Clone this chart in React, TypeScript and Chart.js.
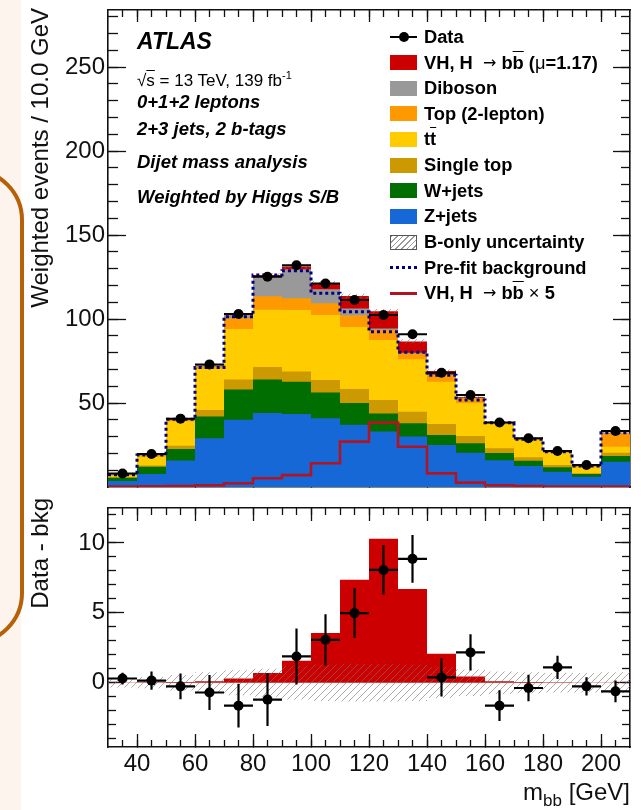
import { useEffect, useRef } from "react";
import { Chart, registerables } from "chart.js";

Chart.register(...registerables);

// ---- m_bb binning (GeV) ----
const binEdges = [30, 40, 50, 60, 70, 80, 90, 100, 110, 120, 130, 140, 150, 160, 170, 180, 190, 200, 210];
const binCenters = [35, 45, 55, 65, 75, 85, 95, 105, 115, 125, 135, 145, 155, 165, 175, 185, 195, 205];

// ---- weighted events per bin, post-fit, by process ----
const zJets = [3.5, 7.7, 15.8, 29, 40, 44, 43.5, 41, 37, 33, 30, 25, 20.4, 16, 12.5, 9.1, 6.1, 15.1];
const wJets = [2.0, 4.3, 6.8, 13, 18, 20, 19.2, 15.2, 13, 10.8, 7.9, 6, 5.6, 4.3, 3.2, 2.6, 1.6, 3.4];
const singleTop = [0.3, 0.8, 2.0, 3.8, 6, 7.5, 6, 7.5, 8.3, 8, 6.9, 6.5, 4.4, 2.8, 2, 1.4, 0.5, 1.9];
const ttbar = [1.2, 5.3, 14.6, 24.6, 30, 34, 36.7, 38.7, 37, 35.7, 31.2, 25.2, 19.6, 14.5, 10.3, 7.3, 3.5, 3.6];
const top2Lepton = [0.3, 0.6, 0.7, 1.2, 6.4, 8, 7, 7, 7, 6, 3.5, 4, 3, 0.4, 0.6, 0.6, 0.6, 8];
const diboson = [0.1, 0.2, 0.4, 0.6, 1.4, 12, 17.3, 8.4, 4, 0.9, 0.5, 0.3, 0.2, 0.1, 0.1, 0.1, 0.1, 0.3];
const vhSignal = [0.02, 0.03, 0.05, 0.1, 0.3, 0.7, 1.57, 3.55, 7.36, 10.3, 6.7, 2.07, 0.45, 0.1, 0.05, 0.03, 0.02, 0.02];

const preFitBkg = [7.3, 19, 40.3, 71.2, 101.4, 126.2, 128.8, 115.3, 104.4, 92.5, 80.2, 66.5, 51.8, 38.3, 28.5, 21, 12.5, 32.3];
const vhTimesFive = [0.3, 0.4, 0.6, 1.0, 2.2, 5.2, 7.1, 14.1, 27, 38.3, 24, 8.1, 2.6, 1.0, 0.5, 0.3, 0.2, 0.2];

const dataCounts = [8, 19.6, 40.7, 73, 103, 125.2, 132, 121.2, 111.3, 102.4, 90.9, 68, 54.8, 38.4, 29, 21.4, 13.1, 33.3];
const dataMinusBkg = [0.3, 0.15, -0.26, -0.7, -1.64, -1.21, 1.88, 3.07, 4.98, 8.07, 8.86, 0.38, 2.17, -1.64, -0.38, 1.1, -0.26, -0.62];
const dataErr = [0.42, 0.65, 0.92, 1.25, 1.57, 1.88, 2.0, 1.83, 1.79, 1.76, 1.7, 1.37, 1.29, 1.1, 0.95, 0.83, 0.65, 0.77];
const bOnlyUnc = [0.35, 0.4, 0.55, 0.75, 0.9, 1.0, 1.2, 1.3, 1.35, 1.35, 1.3, 1.1, 0.95, 0.8, 0.75, 0.7, 0.7, 0.75];

// ---- axis ticks ----
const xMajorTicks = [40, 60, 80, 100, 120, 140, 160, 180, 200];
const xMinorTicks = [35, 40, 45, 50, 55, 60, 65, 70, 75, 80, 85, 90, 95, 100, 105, 110, 115, 120, 125, 130, 135, 140, 145, 150, 155, 160, 165, 170, 175, 180, 185, 190, 195, 200, 205];
const topYMajorTicks = [50, 100, 150, 200, 250];
const topYMinorTicks = [10, 20, 30, 40, 50, 60, 70, 80, 90, 100, 110, 120, 130, 140, 150, 160, 170, 180, 190, 200, 210, 220, 230, 240, 250, 260, 270, 280];
const lowYMajorTicks = [0, 5, 10];
const lowYMinorTicks = [-4, -3, -2, -1, 0, 1, 2, 3, 4, 5, 6, 7, 8, 9, 10, 11, 12];

const X_MIN = 30;
const X_MAX = 210;
const TOP_Y_MAX = 284;
const LOW_Y_MIN = -4.6;
const LOW_Y_MAX = 12.5;

const FONT = '"Liberation Sans", Arial, Helvetica, sans-serif';

const COLORS = {
  z: "rgb(22,104,214)",
  w: "rgb(0,110,0)",
  st: "rgb(204,153,0)",
  tt: "rgb(255,204,0)",
  top2l: "rgb(255,153,0)",
  db: "rgb(153,153,153)",
  vh: "rgb(204,0,0)",
  vhLine: "rgb(178,20,34)",
  prefit: "rgb(0,0,128)",
};

// histogram outline: one point per bin edge, last bin value repeated at the upper edge
const stepPoints = (vals: number[]) =>
  binEdges.map((x, i) => ({ x, y: vals[Math.min(i, vals.length - 1)] }));

// horizontal (bin width) and vertical (±err) bars, separated by gaps
const errorSegments = (ys: number[], errs: number[]) =>
  ys.flatMap((y, i) => {
    const c = binCenters[i];
    return [
      { x: binEdges[i], y },
      { x: binEdges[i + 1], y },
      { x: c, y: null },
      { x: c, y: y - errs[i] },
      { x: c, y: y + errs[i] },
      { x: c, y: null },
    ];
  });

function makeHatch(): CanvasPattern | string {
  const n = 7;
  const c = document.createElement("canvas");
  c.width = n;
  c.height = n;
  const g = c.getContext("2d");
  if (!g) return "rgba(120,120,120,0.4)";
  g.strokeStyle = "rgba(115,115,115,0.6)";
  g.lineWidth = 1;
  g.beginPath();
  g.moveTo(0, n);
  g.lineTo(n, 0);
  g.moveTo(-1, 1);
  g.lineTo(1, -1);
  g.moveTo(n - 1, n + 1);
  g.lineTo(n + 1, n - 1);
  g.stroke();
  return g.createPattern(c, "repeat") || "rgba(120,120,120,0.4)";
}

// an axis carrying inward tick marks (and optionally labels); `size` is the room it takes
function tickScale(
  position: string,
  min: number,
  max: number,
  values: number[],
  length: number,
  opts: { labels?: boolean; pad?: number; border?: boolean; size?: number } = {}
) {
  const size = opts.size ?? 0;
  return {
    type: "linear",
    position,
    min,
    max,
    weight: size > 0 ? 10 : 0,
    afterBuildTicks: (s: any) => {
      s.ticks = values.map((v) => ({ value: v }));
    },
    afterFit: (s: any) => {
      if (s.isHorizontal()) s.height = size;
      else s.width = size;
      s.paddingTop = 0;
      s.paddingBottom = 0;
      s.paddingLeft = 0;
      s.paddingRight = 0;
    },
    grid: {
      display: true,
      drawOnChartArea: false,
      drawTicks: true,
      tickLength: -length,
      tickWidth: 1.3,
      tickColor: "#111",
    },
    border: { display: opts.border !== false, color: "#111", width: 1.6 },
    ticks: {
      display: !!opts.labels,
      autoSkip: false,
      maxRotation: 0,
      minRotation: 0,
      padding: opts.pad ?? 0,
      color: "#111",
      font: { family: FONT, size: 24 },
      callback: (v: any) => String(v),
    },
  };
}

const baseOptions = {
  animation: false,
  responsive: false,
  maintainAspectRatio: false,
  events: [],
  elements: { point: { radius: 0 }, line: { tension: 0 } },
  plugins: { legend: { display: false }, tooltip: { enabled: false }, title: { display: false } },
};

const Bar = ({ children }: { children: any }) => (
  <span style={{ textDecoration: "overline" }}>{children}</span>
);

const Thin = ({ children }: { children: any }) => <span style={{ fontWeight: 400 }}>{children}</span>;

const Arrow = () => (
  <span style={{ fontWeight: 400, fontFamily: '"DejaVu Sans", sans-serif', fontSize: 16, position: "relative", top: -1 }}>
    &nbsp;→
  </span>
);

const legendRows: { kind: string; color?: string; text: any }[] = [
  { kind: "data", text: "Data" },
  {
    kind: "box",
    color: COLORS.vh,
    text: (
      <>
        VH, H <Arrow /> b<Bar>b</Bar> (<Thin>μ</Thin>=1.17)
      </>
    ),
  },
  { kind: "box", color: COLORS.db, text: "Diboson" },
  { kind: "box", color: COLORS.top2l, text: "Top (2-lepton)" },
  {
    kind: "box",
    color: COLORS.tt,
    text: (
      <>
        t<Bar>t</Bar>
      </>
    ),
  },
  { kind: "box", color: COLORS.st, text: "Single top" },
  { kind: "box", color: COLORS.w, text: "W+jets" },
  { kind: "box", color: COLORS.z, text: "Z+jets" },
  { kind: "hatch", text: "B-only uncertainty" },
  { kind: "dots", text: "Pre-fit background" },
  {
    kind: "line",
    text: (
      <>
        VH, H <Arrow /> b<Bar>b</Bar> <Thin>×</Thin> 5
      </>
    ),
  },
];

const LEG_X = 390;
const LEG_W = 27;
const LEG_TEXT_X = 424;
const LEG_Y0 = 36.8;
const LEG_DY = 25.65;

function LegendSymbol({ kind, color }: { kind: string; color?: string }) {
  const common: any = { position: "absolute", left: 0, width: LEG_W };
  if (kind === "box")
    return <div style={{ ...common, top: 5, height: 15, background: color }} />;
  if (kind === "hatch")
    return (
      <div
        style={{
          ...common,
          top: 5,
          height: 15,
          boxSizing: "border-box",
          border: "1px solid #555",
          background: "repeating-linear-gradient(135deg, #9a9a9a 0 1px, #fff 1px 4px)",
        }}
      />
    );
  if (kind === "dots")
    return (
      <div
        style={{
          ...common,
          top: 11,
          height: 3,
          background: `repeating-linear-gradient(90deg, ${COLORS.prefit} 0 3px, transparent 3px 6px)`,
        }}
      />
    );
  if (kind === "line")
    return <div style={{ ...common, top: 11, height: 3, background: COLORS.vhLine }} />;
  // data: line with a marker
  return (
    <>
      <div style={{ ...common, top: 11.5, height: 2, background: "#000" }} />
      <div
        style={{
          position: "absolute",
          left: LEG_W / 2 - 5,
          top: 7.5,
          width: 10,
          height: 10,
          borderRadius: 5,
          background: "#000",
        }}
      />
    </>
  );
}

export default function App() {
  const topRef = useRef<HTMLCanvasElement>(null);
  const lowRef = useRef<HTMLCanvasElement>(null);

  useEffect(() => {
    const hatch = makeHatch();

    // cumulative stack, bottom to top
    const stackParts = [
      { data: zJets, color: COLORS.z },
      { data: wJets, color: COLORS.w },
      { data: singleTop, color: COLORS.st },
      { data: ttbar, color: COLORS.tt },
      { data: top2Lepton, color: COLORS.top2l },
      { data: diboson, color: COLORS.db },
      { data: vhSignal, color: COLORS.vh },
    ];
    let running = binCenters.map(() => 0);
    const stackSets = stackParts.map((p) => {
      running = running.map((v, i) => v + p.data[i]);
      return {
        data: stepPoints(running),
        stepped: "before",
        borderWidth: 0,
        pointRadius: 0,
        fill: "origin",
        backgroundColor: p.color,
      };
    });
    const total = running;

    const topChart = new Chart(topRef.current as HTMLCanvasElement, {
      type: "line",
      data: {
        datasets: [
          {
            data: binCenters.map((x, i) => ({ x, y: dataCounts[i] })),
            showLine: false,
            pointRadius: 5,
            pointBorderWidth: 0,
            pointBackgroundColor: "#000",
            borderColor: "#000",
          },
          {
            data: errorSegments(dataCounts, dataErr),
            borderColor: "#000",
            borderWidth: 2,
            pointRadius: 0,
            fill: false,
          },
          {
            data: stepPoints(vhTimesFive),
            stepped: "before",
            borderColor: COLORS.vhLine,
            borderWidth: 2.6,
            pointRadius: 0,
            fill: false,
          },
          {
            data: stepPoints(preFitBkg),
            stepped: "before",
            borderColor: COLORS.prefit,
            borderWidth: 3,
            borderDash: [3, 3],
            pointRadius: 0,
            fill: false,
          },
          {
            data: stepPoints(total.map((v, i) => v + bOnlyUnc[i])),
            stepped: "before",
            borderWidth: 0,
            pointRadius: 0,
            fill: "+1",
            backgroundColor: hatch,
          },
          {
            data: stepPoints(total.map((v, i) => v - bOnlyUnc[i])),
            stepped: "before",
            borderWidth: 0,
            pointRadius: 0,
            fill: false,
          },
          ...stackSets.slice(),
        ] as any,
      },
      options: {
        ...baseOptions,
        layout: { padding: { left: 0, right: 11, top: 10, bottom: 10 } },
        scales: {
          x: tickScale("bottom", X_MIN, X_MAX, xMajorTicks, 12),
          xMinor: tickScale("bottom", X_MIN, X_MAX, xMinorTicks, 7, { border: false }),
          xTop: tickScale("top", X_MIN, X_MAX, xMajorTicks, 12),
          xTopMinor: tickScale("top", X_MIN, X_MAX, xMinorTicks, 7, { border: false }),
          y: tickScale("left", 0, TOP_Y_MAX, topYMajorTicks, 18, { labels: true, pad: 21, size: 108 }),
          yMinor: tickScale("left", 0, TOP_Y_MAX, topYMinorTicks, 10, { border: false }),
          yRight: tickScale("right", 0, TOP_Y_MAX, topYMajorTicks, 17),
          yRightMinor: tickScale("right", 0, TOP_Y_MAX, topYMinorTicks, 9, { border: false }),
        } as any,
      } as any,
    });

    const lowChart = new Chart(lowRef.current as HTMLCanvasElement, {
      type: "line",
      data: {
        datasets: [
          {
            data: binCenters.map((x, i) => ({ x, y: dataMinusBkg[i] })),
            showLine: false,
            pointRadius: 5,
            pointBorderWidth: 0,
            pointBackgroundColor: "#000",
            borderColor: "#000",
          },
          {
            data: errorSegments(dataMinusBkg, dataErr),
            borderColor: "#000",
            borderWidth: 2.2,
            pointRadius: 0,
            fill: false,
          },
          {
            data: stepPoints(bOnlyUnc),
            stepped: "before",
            borderWidth: 0,
            pointRadius: 0,
            fill: "+1",
            backgroundColor: hatch,
          },
          {
            data: stepPoints(bOnlyUnc.map((u) => -u)),
            stepped: "before",
            borderWidth: 0,
            pointRadius: 0,
            fill: false,
          },
          {
            data: stepPoints(vhSignal),
            stepped: "before",
            borderWidth: 0,
            pointRadius: 0,
            fill: "origin",
            backgroundColor: COLORS.vh,
          },
        ] as any,
      },
      options: {
        ...baseOptions,
        layout: { padding: { left: 0, right: 11, top: 11, bottom: 0 } },
        scales: {
          x: tickScale("bottom", X_MIN, X_MAX, xMajorTicks, 13, { labels: true, pad: 16, size: 63 }),
          xMinor: tickScale("bottom", X_MIN, X_MAX, xMinorTicks, 7, { border: false }),
          xTop: tickScale("top", X_MIN, X_MAX, xMajorTicks, 13),
          xTopMinor: tickScale("top", X_MIN, X_MAX, xMinorTicks, 7, { border: false }),
          y: tickScale("left", LOW_Y_MIN, LOW_Y_MAX, lowYMajorTicks, 16, { labels: true, pad: 19, size: 108 }),
          yMinor: tickScale("left", LOW_Y_MIN, LOW_Y_MAX, lowYMinorTicks, 8, { border: false }),
          yRight: tickScale("right", LOW_Y_MIN, LOW_Y_MAX, lowYMajorTicks, 15),
          yRightMinor: tickScale("right", LOW_Y_MIN, LOW_Y_MAX, lowYMinorTicks, 8, { border: false }),
        } as any,
      } as any,
    });

    return () => {
      topChart.destroy();
      lowChart.destroy();
    };
  }, []);

  const rotated = (text: any, endY: number, width: number) => (
    <div
      style={{
        position: "absolute",
        left: 28,
        top: endY + width,
        width,
        height: 24,
        lineHeight: "24px",
        fontSize: 24,
        textAlign: "right",
        whiteSpace: "nowrap",
        transformOrigin: "0 0",
        transform: "rotate(-90deg)",
        color: "#111",
      }}
    >
      {text}
    </div>
  );

  const infoLine = (top: number, size: number, content: any, italicBold = true) => (
    <div
      style={{
        position: "absolute",
        left: 137,
        top,
        fontSize: size,
        lineHeight: `${size}px`,
        fontWeight: italicBold ? 700 : 400,
        fontStyle: italicBold ? "italic" : "normal",
        whiteSpace: "nowrap",
        color: "#000",
      }}
    >
      {content}
    </div>
  );

  return (
    <div
      style={{
        position: "fixed",
        left: 0,
        top: 0,
        width: 641,
        height: 810,
        overflow: "hidden",
        background: "#fff",
        fontFamily: FONT,
      }}
    >
      <div style={{ position: "absolute", left: 0, top: 0, width: 21, height: 810, background: "rgb(253,245,237)" }} />
      <div
        style={{
          position: "absolute",
          left: -80,
          top: 168,
          width: 104,
          height: 477,
          boxSizing: "border-box",
          border: "4.5px solid rgb(182,96,8)",
          borderRadius: 52,
        }}
      />

      <canvas ref={topRef} width={641} height={497} style={{ position: "absolute", left: 0, top: 0 }} />
      <canvas ref={lowRef} width={641} height={313} style={{ position: "absolute", left: 0, top: 497 }} />

      {rotated("Weighted events / 10.0 GeV", 8, 340)}
      {rotated("Data - bkg", 498, 160)}

      <div
        style={{
          position: "absolute",
          right: 11,
          top: 780,
          fontSize: 24,
          lineHeight: "24px",
          whiteSpace: "nowrap",
          color: "#111",
        }}
      >
        m<span style={{ fontSize: 17, position: "relative", top: 6 }}>bb</span> [GeV]
      </div>

      {infoLine(30, 23, "ATLAS")}
      {infoLine(
        72,
        17,
        <>
          √<span style={{ textDecoration: "overline" }}>s</span> = 13 TeV, 139 fb
          <span style={{ fontSize: 11, position: "relative", top: -7 }}>-1</span>
        </>,
        false
      )}
      {infoLine(92.5, 18.5, "0+1+2 leptons")}
      {infoLine(119.5, 18.5, "2+3 jets, 2 b-tags")}
      {infoLine(152.5, 18.5, "Dijet mass analysis")}
      {infoLine(187.5, 18.5, "Weighted by Higgs S/B")}

      {legendRows.map((row, i) => {
        const cy = LEG_Y0 + LEG_DY * i;
        return (
          <div key={i} style={{ position: "absolute", left: LEG_X, top: cy - 12.5, height: 25, width: 240 }}>
            <LegendSymbol kind={row.kind} color={row.color} />
            <div
              style={{
                position: "absolute",
                left: LEG_TEXT_X - LEG_X,
                top: 3.6,
                fontSize: 18.3,
                lineHeight: "18.3px",
                fontWeight: 700,
                whiteSpace: "nowrap",
                color: "#000",
              }}
            >
              {row.text}
            </div>
          </div>
        );
      })}
    </div>
  );
}
